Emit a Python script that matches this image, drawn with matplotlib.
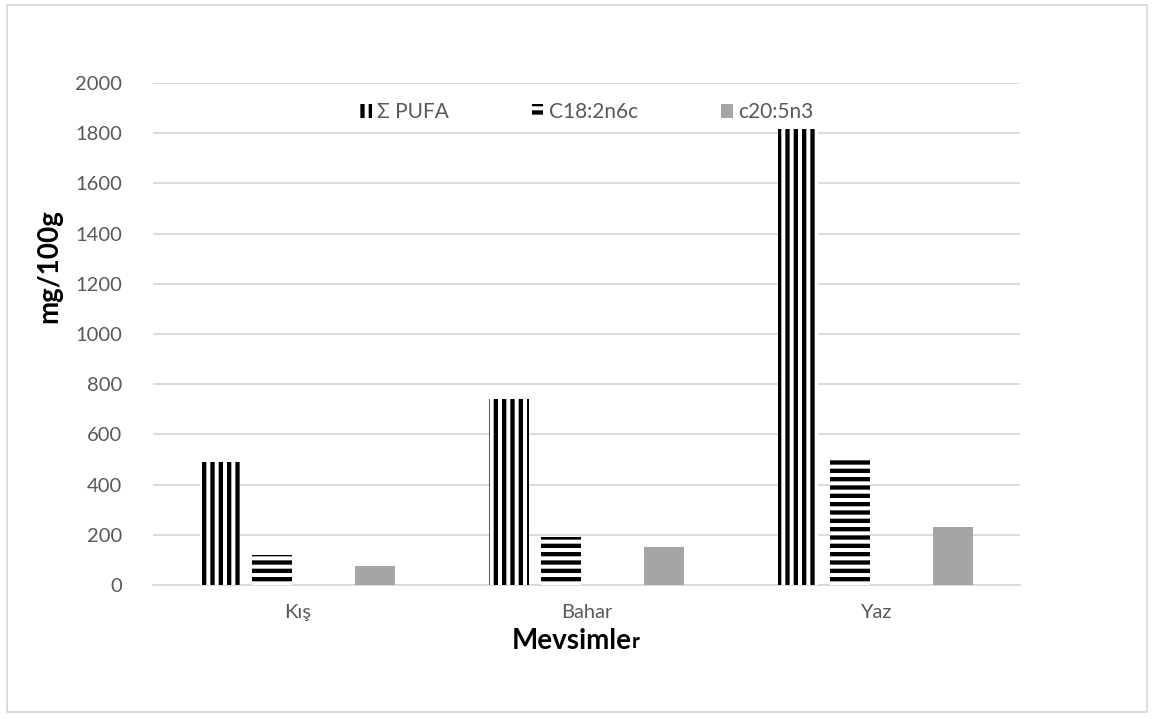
import numpy as np
import matplotlib.pyplot as plt
from matplotlib.patches import Rectangle

# Data
seasons = ['Kış', 'Bahar', 'Yaz']
pufa = [490, 740, 1815]
c18 = [120, 190, 505]
c20 = [75, 150, 230]
yticks = [0, 200, 400, 600, 800, 1000, 1200, 1400, 1600, 1800, 2000]

plt.rcParams['font.family'] = ['Lato', 'DejaVu Sans']
plt.rcParams['hatch.linewidth'] = 3.1

fig = plt.figure(figsize=(11.54, 7.19), dpi=100)
ax = fig.add_axes([0.1326, 0.1864, 0.7514, 0.6982])

x = np.arange(len(seasons))
w = 0.138
step = 0.179

ax.bar(x - 1.5 * step, pufa, w, color='white', edgecolor='black', linewidth=0,
       hatch='||', label='Σ PUFA', zorder=3)
ax.bar(x - 0.5 * step, c18, w, color='white', edgecolor='black', linewidth=0,
       hatch='--', label='C18:2n6c', zorder=3)
ax.bar(x + 1.5 * step, c20, w, color='#a5a5a5', linewidth=0,
       label='c20:5n3', zorder=3)

ax.set_xlim(-0.5, 2.5)
ax.set_ylim(0, 2000)
ax.set_yticks(yticks)
ax.set_xticks(x)
ax.set_xticklabels(seasons)
ax.tick_params(length=0, labelsize=14.5, colors='#595959')
ax.tick_params(axis='x', pad=14)
ax.tick_params(axis='y', pad=22)
ax.grid(axis='y', color='#d9d9d9', linewidth=1.3, zorder=0)
for s in ['top', 'right', 'left']:
    ax.spines[s].set_visible(False)
ax.spines['bottom'].set_color('#d9d9d9')
ax.spines['bottom'].set_linewidth(1.3)

ax.set_ylabel('mg/100g', fontsize=20, fontweight='bold')
ax.yaxis.set_label_coords(-0.105, 0.635)
ax.set_xlabel('Mevsimle', fontsize=20, fontweight='bold')
ax.xaxis.set_label_coords(0.483, -0.085)
ax.annotate('r', xy=(1, 0), xycoords=ax.xaxis.label, xytext=(0, 4.2),
            textcoords='offset points', fontsize=15, fontweight='bold',
            ha='left', va='baseline')

leg = ax.legend(loc='center', bbox_to_anchor=(0.5, 0.942), ncol=3,
                frameon=False, fontsize=15, handlelength=0.55,
                handleheight=0.7, handletextpad=0.25, columnspacing=4.0,
                labelcolor='#595959')

fig.patches.append(Rectangle((0.006, 0.01), 0.988, 0.983, transform=fig.transFigure,
                             fill=False, edgecolor='#d9d9d9', linewidth=1.3))

fig.savefig('out.png', dpi=100)
